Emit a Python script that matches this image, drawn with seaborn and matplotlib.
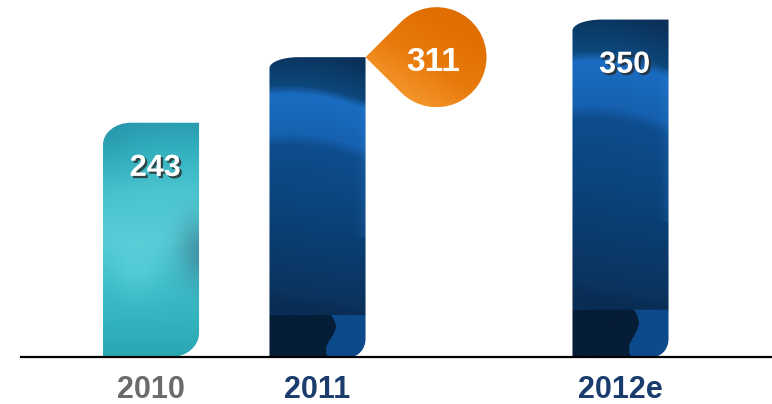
import numpy as np
import pandas as pd
import matplotlib
matplotlib.use("Agg")
import matplotlib.pyplot as plt
import seaborn as sns
from matplotlib.path import Path
from matplotlib.patches import PathPatch
from matplotlib.colors import to_rgb
import matplotlib.patheffects as pe

# ---- data -------------------------------------------------------------
years = ["2010", "2011", "2012e"]
values = [243, 311, 350]

# ---- layout / style ---------------------------------------------------
slots = [0.0, 1.0, 2.82]              # horizontal slot of each year
tick_colors = ["#6b6b6b", "#1b3d6d", "#1b3d6d"]
bar_styles = ["teal", "blue", "blue"]
callout_year = "2011"                 # value shown in the orange bubble

sns.set_theme(style="white")
plt.rcParams["font.family"] = ["Liberation Sans", "DejaVu Sans"]

DPI = 100
W_PX, H_PX = 772, 404
fig = plt.figure(figsize=(W_PX / DPI, H_PX / DPI), dpi=DPI)
fig.patch.set_facecolor("white")
ax = fig.add_axes([21 / W_PX, 47 / H_PX, 1 - 21 / W_PX, 1 - 47 / H_PX])

df = pd.DataFrame({"slot": slots, "value": values, "year": years})
sns.barplot(data=df, x="slot", y="value", native_scale=True, width=0.577,
            color="#1f5fa8", errorbar=None, ax=ax)

ax.set_xlim(-0.781, 3.730)
ax.set_ylim(0, 370.3)

# pixels per data unit
p0 = ax.transData.transform((0, 0))
p1 = ax.transData.transform((1, 1))
sx, sy = p1 - p0

K = 0.5523
M, L, C4, CP = Path.MOVETO, Path.LINETO, Path.CURVE4, Path.CLOSEPOLY


def leaf_path(x0, x1, y0, y1, tl, br):
    """Bar outline with a rounded top-left and bottom-right corner."""
    tx, ty = tl
    bx, by = br
    verts = [(x0, y0), (x1 - bx, y0),
             (x1 - bx + K * bx, y0), (x1, y0 + by - K * by), (x1, y0 + by),
             (x1, y1), (x0 + tx, y1),
             (x0 + tx - K * tx, y1), (x0, y1 - ty + K * ty), (x0, y1 - ty),
             (x0, y0), (x0, y0)]
    codes = [M, L, C4, C4, C4, L, L, C4, C4, C4, L, CP]
    return Path(verts, codes)


def blend(stops, t):
    pos = [s[0] for s in stops]
    cols = np.array([to_rgb(s[1]) for s in stops])
    return np.stack([np.interp(t, pos, cols[:, k]) for k in range(3)], axis=-1)


def mix(a, b, w):
    return a * (1 - w[..., None]) + np.array(to_rgb(b)) * w[..., None]


def blue_texture(h=300, w=100):
    t = np.linspace(0, 1, h)[:, None] * np.ones((1, w))
    u = np.ones((h, 1)) * np.linspace(0, 1, w)[None, :]
    t_eff = t - 0.05 * (u - 0.5) + 0.02 * np.sin(np.pi * u) * (t < 0.4)
    stops = [(0.00, "#0a3159"), (0.12, "#0d477b"), (0.15, "#1a6cc2"),
             (0.28, "#1661b0"), (0.32, "#0e4d8e"), (0.55, "#0b4178"),
             (0.80, "#0a335e"), (0.85, "#092c52"), (1.0, "#0a3a6e")]
    img = blend(stops, t_eff)
    # lower wave: dark on the left, brighter blue on the right
    edge = 0.64 + 0.05 * np.sin((t - 0.86) * 40)
    low = t > 0.86
    img[low & (u < edge)] = to_rgb("#061d38")
    img[low & (u >= edge)] = to_rgb("#0c4a8c")
    # faint lighter stripe near the right edge
    wr = 0.2 * np.exp(-((u - 1.0) / 0.06) ** 2) * ((t > 0.15) & (t < 0.6))
    img = mix(img, "#2f7fcc", wr)
    return img


def teal_texture(h=300, w=100):
    t = np.linspace(0, 1, h)[:, None] * np.ones((1, w))
    u = np.ones((h, 1)) * np.linspace(0, 1, w)[None, :]
    stops = [(0.0, "#2a9db0"), (0.12, "#33b0bf"), (0.3, "#4cc6d0"),
             (0.5, "#56ccd6"), (0.7, "#3dbcc7"), (0.85, "#33b3bf"),
             (1.0, "#2ba6b3")]
    img = blend(stops, t)
    w1 = 0.65 * np.exp(-((u - 1.0) / 0.22) ** 2 - ((t - 0.55) / 0.14) ** 2)
    img = mix(img, "#3a7d93", w1)
    w2 = 0.35 * np.exp(-(u / 0.35) ** 2 - (t / 0.25) ** 2)
    img = mix(img, "#1f8a9e", w2)
    w3 = 0.35 * np.exp(-((u - 0.35) / 0.25) ** 2 - ((t - 0.62) / 0.12) ** 2)
    img = mix(img, "#6fe0e6", w3)
    return img


textures = {"teal": teal_texture(), "blue": blue_texture()}
corners = {"teal": ((28, 22), (28, 24)), "blue": ((29, 11), (16, 18))}

bars = sorted(ax.patches, key=lambda p: p.get_x())
bar_geom = {}
for bar, year, style in zip(bars, years, bar_styles):
    x0, y0 = bar.get_x(), bar.get_y()
    x1, y1 = x0 + bar.get_width(), y0 + bar.get_height()
    bar.set_visible(False)
    (tx, ty), (bx, by) = corners[style]
    path = leaf_path(x0, x1, y0, y1, (tx / sx, ty / sy), (bx / sx, by / sy))
    outline = PathPatch(path, facecolor="none", edgecolor="none", lw=0)
    ax.add_patch(outline)
    im = ax.imshow(textures[style], extent=(x0, x1, y0, y1), origin="upper",
                   aspect="auto", interpolation="bilinear", zorder=2)
    im.set_clip_path(outline)
    bar_geom[year] = (x0, x1, y1)

# value labels inside the bars
shadow = [pe.withSimplePatchShadow(offset=(1.6, -1.6), shadow_rgbFace="#2b2b2b",
                                   alpha=0.8)]
for year, slot, val in zip(years, slots, values):
    if year == callout_year:
        continue
    ax.annotate(f"{val}", xy=(slot, val), xytext=(3, -30),
                textcoords="offset points", ha="center", va="center_baseline",
                color="white", fontsize=22, fontweight="bold", zorder=5,
                path_effects=shadow)

# orange callout bubble pointing at the top-right corner of its bar
ci = years.index(callout_year)
ax0, ax1, atop = bar_geom[callout_year]
anchor = np.array([ax1, values[ci]])
R_PX, D_PX = 50, 71
center = anchor + np.array([D_PX / sx, 0])
rx, ry = R_PX / sx, R_PX / sy
ang = np.degrees(np.arccos(R_PX / D_PX))
arc = Path.arc(180 + ang, 540 - ang)
arc_v = arc.vertices * np.array([rx, ry]) + center
arc_c = arc.codes.copy()
arc_c[0] = L
bubble = Path(np.vstack([anchor, arc_v, anchor, anchor]),
              np.concatenate([[M], arc_c, [L, CP]]))
bubble_patch = PathPatch(bubble, facecolor="none", edgecolor="none", lw=0)
ax.add_patch(bubble_patch)

gh, gw = 100, 120
r = np.linspace(0, 1, gh)[:, None] * np.ones((1, gw))
c = np.ones((gh, 1)) * np.linspace(0, 1, gw)[None, :]
wdiag = np.clip(((1 - c) * 0.55 + r * 0.75 - 0.25), 0, 1)
grad = blend([(0.0, "#e06e00"), (0.45, "#e87a0c"), (1.0, "#fba53c")], wdiag)
bx0, bx1 = anchor[0], center[0] + rx
by0, by1 = center[1] - ry, center[1] + ry
gim = ax.imshow(grad, extent=(bx0, bx1, by0, by1), origin="upper",
                aspect="auto", interpolation="bilinear", zorder=4)
gim.set_clip_path(bubble_patch)
ax.text(center[0] - 3 / sx, center[1] - 2 / sy, f"{values[ci]}", ha="center",
        va="center_baseline", color="white", fontsize=24, fontweight="bold",
        zorder=6)

# axes cosmetics
ax.set_xlim(-0.781, 3.730)
ax.set_ylim(0, 370.3)
ax.set_xlabel("")
ax.set_ylabel("")
ax.set_yticks([])
ax.set_xticks(slots)
ax.set_xticklabels(years, fontsize=22, fontweight="bold")
for lbl, col in zip(ax.get_xticklabels(), tick_colors):
    lbl.set_color(col)
ax.tick_params(axis="x", length=0, pad=13)
for side in ("left", "top", "right"):
    ax.spines[side].set_visible(False)
ax.spines["bottom"].set_color("black")
ax.spines["bottom"].set_linewidth(1.6)
ax.spines["bottom"].set_zorder(7)
ax.set_facecolor("white")

fig.savefig("out.png", dpi=DPI)
